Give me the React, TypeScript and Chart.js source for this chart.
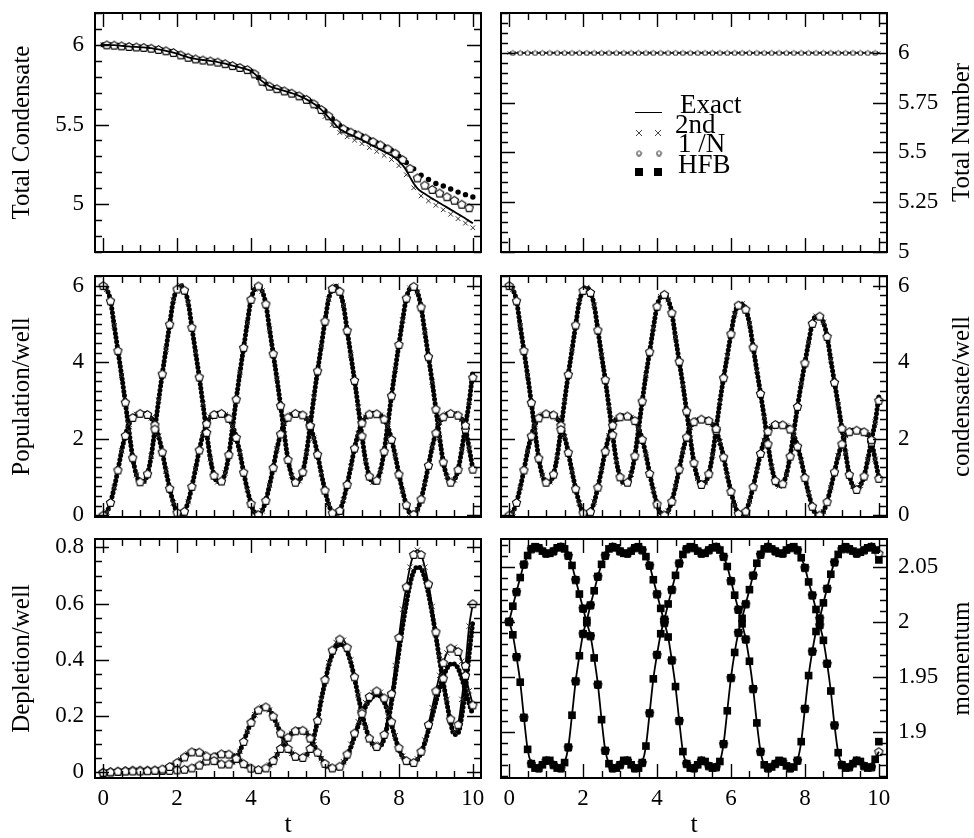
import React, { useEffect, useRef } from "react";
import { Chart, registerables } from "chart.js";
Chart.register(...registerables);

// ---------- data ----------
const T = [
  0, 0.1, 0.2, 0.3, 0.4, 0.5, 0.6, 0.7, 0.8, 0.9,
  1, 1.1, 1.2, 1.3, 1.4, 1.5, 1.6, 1.7, 1.8, 1.9,
  2, 2.1, 2.2, 2.3, 2.4, 2.5, 2.6, 2.7, 2.8, 2.9,
  3, 3.1, 3.2, 3.3, 3.4, 3.5, 3.6, 3.7, 3.8, 3.9,
  4, 4.1, 4.2, 4.3, 4.4, 4.5, 4.6, 4.7, 4.8, 4.9,
  5, 5.1, 5.2, 5.3, 5.4, 5.5, 5.6, 5.7, 5.8, 5.9,
  6, 6.1, 6.2, 6.3, 6.4, 6.5, 6.6, 6.7, 6.8, 6.9,
  7, 7.1, 7.2, 7.3, 7.4, 7.5, 7.6, 7.7, 7.8, 7.9,
  8, 8.1, 8.2, 8.3, 8.4, 8.5, 8.6, 8.7, 8.8, 8.9,
  9, 9.1, 9.2, 9.3, 9.4, 9.5, 9.6, 9.7, 9.8, 9.9,
  10,
];

// Total condensate (exact), and late-time (t = 6.0 .. 10.0) values of the approximations
const totCondExact = [
  6.0, 6.0, 5.999, 5.998, 5.996, 5.994, 5.992, 5.99, 5.988, 5.987,
  5.985, 5.984, 5.982, 5.979, 5.975, 5.971, 5.967, 5.963, 5.958, 5.952,
  5.945, 5.937, 5.929, 5.922, 5.916, 5.912, 5.908, 5.905, 5.902, 5.899,
  5.896, 5.892, 5.887, 5.882, 5.876, 5.87, 5.864, 5.858, 5.852, 5.845,
  5.835, 5.818, 5.795, 5.772, 5.754, 5.741, 5.732, 5.725, 5.718, 5.711,
  5.704, 5.697, 5.689, 5.68, 5.67, 5.658, 5.645, 5.63, 5.613, 5.594,
  5.57, 5.545, 5.52, 5.495, 5.472, 5.458, 5.445, 5.435, 5.425, 5.414,
  5.403, 5.39, 5.378, 5.366, 5.354, 5.342, 5.33, 5.318, 5.305, 5.29,
  5.268, 5.245, 5.212, 5.17, 5.13, 5.1, 5.08, 5.065, 5.05, 5.035,
  5.022, 5.008, 4.994, 4.98, 4.966, 4.952, 4.938, 4.924, 4.91, 4.895,
  4.88,
];
const totCondSecondLate = [
  5.55, 5.525, 5.498, 5.472, 5.45, 5.435, 5.423, 5.412, 5.402, 5.391,
  5.38, 5.367, 5.355, 5.343, 5.331, 5.318, 5.306, 5.293, 5.28, 5.264,
  5.242, 5.218, 5.185, 5.143, 5.103, 5.073, 5.052, 5.036, 5.021, 5.006,
  4.993, 4.979, 4.965, 4.951, 4.937, 4.923, 4.909, 4.895, 4.881, 4.866,
  4.852,
];
const totCondInvNLate = [
  5.58, 5.555, 5.53, 5.508, 5.487, 5.473, 5.462, 5.452, 5.443, 5.434,
  5.426, 5.415, 5.404, 5.393, 5.382, 5.372, 5.36, 5.348, 5.335, 5.32,
  5.3, 5.28, 5.255, 5.225, 5.19, 5.165, 5.14, 5.12, 5.105, 5.093,
  5.082, 5.07, 5.058, 5.047, 5.036, 5.025, 5.013, 5.0, 4.99, 4.978,
  4.965,
];
const totCondHfbLate = [
  5.585, 5.56, 5.537, 5.515, 5.495, 5.48, 5.468, 5.458, 5.448, 5.438,
  5.428, 5.418, 5.407, 5.396, 5.385, 5.374, 5.362, 5.35, 5.338, 5.322,
  5.302, 5.283, 5.262, 5.243, 5.222, 5.2, 5.182, 5.167, 5.155, 5.142,
  5.13, 5.122, 5.114, 5.105, 5.095, 5.085, 5.076, 5.068, 5.06, 5.052,
  5.045,
];

// Total number
const totNumber = [
  6, 6, 6, 6, 6, 6, 6, 6, 6, 6,
  6, 6, 6, 6, 6, 6, 6, 6, 6, 6,
  6, 6, 6, 6, 6, 6, 6, 6, 6, 6,
  6, 6, 6, 6, 6, 6, 6, 6, 6, 6,
  6, 6, 6, 6, 6, 6, 6, 6, 6, 6,
  6, 6, 6, 6, 6, 6, 6, 6, 6, 6,
  6, 6, 6, 6, 6, 6, 6, 6, 6, 6,
  6, 6, 6, 6, 6, 6, 6, 6, 6, 6,
  6, 6, 6, 6, 6, 6, 6, 6, 6, 6,
  6, 6, 6, 6, 6, 6, 6, 6, 6, 6,
  6,
];

// Population per well
const pop1 = [
  6.0, 5.9, 5.6, 4.95, 4.3, 3.65, 2.95, 2.2, 1.5, 1.05,
  0.87, 0.88, 1.08, 1.54, 2.25, 3.0, 3.69, 4.34, 4.99, 5.62,
  5.91, 6.0, 5.88, 5.56, 4.91, 4.26, 3.61, 2.9, 2.16, 1.47,
  1.04, 0.87, 0.89, 1.1, 1.58, 2.29, 3.03, 3.73, 4.38, 5.03,
  5.64, 5.91, 5.99, 5.86, 5.52, 4.87, 4.22, 3.57, 2.86, 2.12,
  1.45, 1.03, 0.86, 0.9, 1.13, 1.63, 2.34, 3.08, 3.77, 4.42,
  5.07, 5.65, 5.92, 5.98, 5.85, 5.48, 4.83, 4.18, 3.52, 2.82,
  2.07, 1.42, 1.02, 0.86, 0.91, 1.16, 1.67, 2.38, 3.12, 3.81,
  4.46, 5.1, 5.67, 5.93, 5.98, 5.83, 5.44, 4.79, 4.14, 3.48,
  2.77, 2.03, 1.39, 1.01, 0.86, 0.92, 1.19, 1.71, 2.35, 2.95,
  3.6,
];
const pop2 = [
  0, 0.08, 0.33, 0.72, 1.18, 1.68, 2.08, 2.38, 2.55, 2.63,
  2.66, 2.66, 2.63, 2.54, 2.36, 2.06, 1.65, 1.15, 0.7, 0.32,
  0.07, 0.0, 0.1, 0.35, 0.75, 1.21, 1.7, 2.1, 2.39, 2.56,
  2.63, 2.66, 2.66, 2.62, 2.53, 2.34, 2.03, 1.62, 1.12, 0.67,
  0.3, 0.06, 0.01, 0.11, 0.38, 0.78, 1.24, 1.73, 2.12, 2.4,
  2.56, 2.63, 2.66, 2.65, 2.62, 2.52, 2.33, 2.01, 1.59, 1.09,
  0.65, 0.28, 0.06, 0.01, 0.12, 0.4, 0.8, 1.27, 1.75, 2.13,
  2.41, 2.56, 2.64, 2.66, 2.65, 2.61, 2.51, 2.31, 1.98, 1.56,
  1.07, 0.63, 0.27, 0.05, 0.02, 0.14, 0.42, 0.83, 1.3, 1.78,
  2.15, 2.42, 2.57, 2.64, 2.66, 2.65, 2.61, 2.5, 2.25, 1.75,
  1.2,
];
const pop1HfbEnd = 3.78;

// Condensate per well
const cond1 = [
  6.0, 5.9, 5.6, 4.95, 4.3, 3.65, 2.94, 2.19, 1.49, 1.04,
  0.86, 0.87, 1.07, 1.53, 2.24, 2.99, 3.68, 4.32, 4.97, 5.59,
  5.87, 5.95, 5.82, 5.49, 4.84, 4.18, 3.54, 2.83, 2.1, 1.42,
  1.0, 0.84, 0.86, 1.07, 1.55, 2.25, 2.98, 3.66, 4.27, 4.89,
  5.46, 5.71, 5.77, 5.63, 5.29, 4.65, 4.02, 3.4, 2.72, 2.01,
  1.37, 0.96, 0.8, 0.85, 1.08, 1.57, 2.26, 2.96, 3.59, 4.16,
  4.74, 5.26, 5.49, 5.52, 5.38, 5.01, 4.39, 3.78, 3.18, 2.55,
  1.86, 1.26, 0.9, 0.76, 0.82, 1.06, 1.54, 2.18, 2.84, 3.43,
  3.98, 4.52, 5.01, 5.2, 5.2, 5.04, 4.67, 4.06, 3.47, 2.89,
  2.27, 1.62, 1.06, 0.75, 0.67, 0.78, 1.02, 1.45, 1.97, 2.43,
  3.0,
];
const cond2 = [
  0, 0.08, 0.33, 0.72, 1.18, 1.67, 2.07, 2.37, 2.54, 2.62,
  2.65, 2.65, 2.62, 2.53, 2.35, 2.05, 1.64, 1.14, 0.69, 0.31,
  0.06, 0.0, 0.09, 0.34, 0.73, 1.19, 1.67, 2.07, 2.35, 2.51,
  2.57, 2.6, 2.59, 2.55, 2.47, 2.28, 1.98, 1.58, 1.09, 0.65,
  0.29, 0.05, 0.0, 0.1, 0.36, 0.75, 1.2, 1.67, 2.04, 2.29,
  2.44, 2.49, 2.51, 2.5, 2.47, 2.38, 2.21, 1.91, 1.52, 1.04,
  0.62, 0.26, 0.04, 0.0, 0.1, 0.36, 0.74, 1.17, 1.61, 1.95,
  2.19, 2.31, 2.37, 2.38, 2.36, 2.33, 2.25, 2.08, 1.8, 1.43,
  0.98, 0.57, 0.23, 0.02, 0.0, 0.09, 0.35, 0.72, 1.13, 1.55,
  1.86, 2.08, 2.18, 2.22, 2.22, 2.2, 2.18, 2.11, 1.91, 1.46,
  0.96,
];
const cond1HfbEnd = 3.1;

// Depletion per well
const dep1 = [
  0.0, 0.001, 0.002, 0.003, 0.004, 0.004, 0.005, 0.005, 0.005, 0.005,
  0.005, 0.005, 0.006, 0.007, 0.008, 0.01, 0.012, 0.016, 0.021, 0.027,
  0.035, 0.045, 0.055, 0.066, 0.073, 0.075, 0.072, 0.066, 0.058, 0.05,
  0.042, 0.035, 0.03, 0.028, 0.03, 0.036, 0.05, 0.075, 0.11, 0.145,
  0.178, 0.205, 0.222, 0.232, 0.233, 0.222, 0.2, 0.17, 0.14, 0.11,
  0.085, 0.068, 0.057, 0.052, 0.053, 0.062, 0.085, 0.125, 0.185, 0.26,
  0.33, 0.39, 0.435, 0.462, 0.474, 0.47, 0.445, 0.4, 0.34, 0.275,
  0.21, 0.16, 0.122, 0.1, 0.092, 0.1, 0.135, 0.2, 0.28, 0.38,
  0.48, 0.58, 0.66, 0.73, 0.775, 0.79, 0.775, 0.73, 0.67, 0.59,
  0.5, 0.415, 0.335, 0.26, 0.19, 0.145, 0.17, 0.26, 0.38, 0.52,
  0.6,
];
const dep2 = [
  0.0, 0.001, 0.002, 0.003, 0.004, 0.005, 0.006, 0.007, 0.008, 0.008,
  0.008, 0.008, 0.008, 0.008, 0.008, 0.007, 0.007, 0.007, 0.007, 0.008,
  0.009, 0.01, 0.011, 0.013, 0.016, 0.02, 0.026, 0.033, 0.041, 0.049,
  0.056, 0.062, 0.066, 0.067, 0.065, 0.06, 0.052, 0.042, 0.031, 0.022,
  0.015, 0.011, 0.01, 0.011, 0.016, 0.026, 0.042, 0.062, 0.085, 0.107,
  0.125, 0.139, 0.148, 0.152, 0.15, 0.14, 0.122, 0.098, 0.072, 0.049,
  0.032, 0.021, 0.016, 0.016, 0.022, 0.038, 0.065, 0.1, 0.14, 0.18,
  0.217, 0.248, 0.27, 0.284, 0.29, 0.285, 0.265, 0.228, 0.18, 0.13,
  0.088, 0.058, 0.042, 0.035, 0.035, 0.048, 0.075, 0.115, 0.17, 0.23,
  0.29, 0.345, 0.39, 0.425, 0.442, 0.445, 0.43, 0.395, 0.345, 0.29,
  0.24,
];
const dep1HfbLate = [
  0.32, 0.38, 0.42, 0.445, 0.455, 0.452, 0.43, 0.39, 0.335, 0.27,
  0.21, 0.16, 0.122, 0.098, 0.088, 0.093, 0.12, 0.175, 0.25, 0.34,
  0.43, 0.52, 0.6, 0.67, 0.715, 0.73, 0.725, 0.69, 0.635, 0.565,
  0.485, 0.4, 0.32, 0.245, 0.175, 0.135, 0.14, 0.2, 0.3, 0.42,
  0.54,
];
const dep2HfbLate = [
  0.031, 0.02, 0.015, 0.015, 0.02, 0.034, 0.058, 0.09, 0.128, 0.167,
  0.203, 0.234, 0.256, 0.27, 0.275, 0.27, 0.25, 0.215, 0.17, 0.123,
  0.083, 0.055, 0.04, 0.034, 0.035, 0.046, 0.07, 0.105, 0.15, 0.2,
  0.25, 0.3, 0.34, 0.37, 0.385, 0.385, 0.37, 0.335, 0.29, 0.245,
  0.205,
];

// Momentum
const mom1 = [
  2.0, 1.988, 1.968, 1.945, 1.913, 1.884, 1.871, 1.867, 1.867, 1.87,
  1.874, 1.874, 1.87, 1.867, 1.867, 1.872, 1.886, 1.915, 1.946, 1.969,
  1.989, 2.001, 2.015, 2.028, 2.041, 2.052, 2.06, 2.066, 2.068, 2.067,
  2.064, 2.062, 2.062, 2.064, 2.067, 2.068, 2.065, 2.059, 2.051, 2.038,
  2.025, 2.012, 1.999, 1.986, 1.965, 1.941, 1.91, 1.882, 1.871, 1.867,
  1.867, 1.87, 1.874, 1.873, 1.869, 1.867, 1.868, 1.873, 1.889, 1.919,
  1.949, 1.972, 1.99, 2.003, 2.016, 2.029, 2.042, 2.053, 2.061, 2.066,
  2.068, 2.066, 2.064, 2.062, 2.062, 2.065, 2.067, 2.068, 2.065, 2.058,
  2.049, 2.036, 2.024, 2.011, 1.997, 1.983, 1.962, 1.937, 1.906, 1.881,
  1.87, 1.867, 1.868, 1.871, 1.874, 1.873, 1.869, 1.867, 1.868, 1.875,
  1.882,
];
const mom2 = [
  2.0, 2.014, 2.027, 2.04, 2.052, 2.06, 2.066, 2.068, 2.067, 2.064,
  2.062, 2.062, 2.064, 2.067, 2.068, 2.066, 2.06, 2.051, 2.038, 2.025,
  2.012, 1.999, 1.987, 1.967, 1.943, 1.911, 1.883, 1.871, 1.867, 1.867,
  1.87, 1.874, 1.874, 1.87, 1.867, 1.867, 1.872, 1.887, 1.917, 1.948,
  1.97, 1.989, 2.002, 2.016, 2.029, 2.042, 2.053, 2.061, 2.066, 2.068,
  2.067, 2.064, 2.062, 2.062, 2.065, 2.067, 2.068, 2.065, 2.059, 2.05,
  2.037, 2.024, 2.011, 1.998, 1.984, 1.964, 1.939, 1.908, 1.882, 1.87,
  1.867, 1.868, 1.871, 1.874, 1.873, 1.869, 1.867, 1.868, 1.874, 1.891,
  1.921, 1.951, 1.973, 1.991, 2.003, 2.017, 2.03, 2.043, 2.054, 2.061,
  2.066, 2.068, 2.066, 2.064, 2.062, 2.063, 2.065, 2.067, 2.068, 2.065,
  2.062,
];
const mom1HfbEnd = 1.891;
const mom2HfbEnd = 2.056;

// Axis ticks
const X_MIN = -0.22;
const X_MAX = 10.22;
const xTickLabels = [0, 2, 4, 6, 8, 10];
const condTotTicks = [5, 5.5, 6];
const numTotTicks = [5, 5.25, 5.5, 5.75, 6];
const popTicks = [0, 2, 4, 6];
const depTicks = [0, 0.2, 0.4, 0.6, 0.8];
const momTicks = [1.9, 1.95, 2, 2.05];

const legendLabels = ["Exact", "2nd", "1 /N", "HFB"];

// ---------- styling ----------
const FONT = "'Liberation Serif', 'Times New Roman', Times, serif";
const TICK_FONT = "'Liberation Serif', 'Times New Roman', Times, serif";
const LATE_START = 60;

const LAYOUT = [
  { x: 0, y: 0, w: 490, h: 262 },
  { x: 490, y: 0, w: 484, h: 262 },
  { x: 0, y: 262, w: 490, h: 266 },
  { x: 490, y: 262, w: 484, h: 266 },
  { x: 0, y: 528, w: 490, h: 310 },
  { x: 490, y: 528, w: 484, h: 310 },
];
const ROW_PAD = [
  { top: 13, bottom: 10 },
  { top: 14, bottom: 11 },
  { top: 11, bottom: 0 },
];

const xy = (ys: number[], from = 0) => ys.map((y, i) => ({ x: T[from + i], y }));
const every = (pts: any[], mod: number, rem: number) => pts.filter((_, i) => i % mod === rem);
const joinLate = (early: number[], late: number[]) => [...early.slice(0, LATE_START), ...late];
const withEnd = (arr: number[], end: number) => [...arr.slice(0, arr.length - 1), end];

function makePentagon(size: number, r: number, lw: number) {
  const c = document.createElement("canvas");
  c.width = size;
  c.height = size;
  const g = c.getContext("2d")!;
  g.beginPath();
  for (let k = 0; k < 5; k++) {
    const a = -Math.PI / 2 + (k * 2 * Math.PI) / 5;
    const px = size / 2 + r * Math.cos(a);
    const py = size / 2 + 0.4 + r * Math.sin(a);
    if (k === 0) g.moveTo(px, py);
    else g.lineTo(px, py);
  }
  g.closePath();
  g.fillStyle = "#fff";
  g.fill();
  g.lineWidth = lw;
  g.strokeStyle = "#000";
  g.stroke();
  return c;
}

const lineDs = (data: any[], width = 1.8) => ({
  data, showLine: true, borderColor: "#000", borderWidth: width, pointRadius: 0,
  cubicInterpolationMode: "monotone", fill: false,
});
const dottedDs = (data: any[]) => ({
  data, showLine: true, borderColor: "#000", borderWidth: 5, borderDash: [0, 4.2],
  borderCapStyle: "round", pointRadius: 0, cubicInterpolationMode: "monotone", fill: false,
});
const crossDs = (data: any[], r = 3.8) => ({
  data, showLine: false, pointStyle: "crossRot", pointRadius: r, pointBorderWidth: 1,
  pointBorderColor: "#333", borderColor: "#333", pointBackgroundColor: "rgba(0,0,0,0)",
});
const pentDs = (data: any[], img: any) => ({
  data, showLine: false, pointStyle: img, pointRadius: 4,
});
const dotDs = (data: any[], r: number) => ({
  data, showLine: false, pointStyle: "circle", pointRadius: r, pointBorderWidth: 0,
  pointBackgroundColor: "#000", pointBorderColor: "#000",
});
const squareDs = (data: any[], r: number) => ({
  data, showLine: false, pointStyle: "rect", pointRadius: r, pointBorderWidth: 0,
  pointBackgroundColor: "#000", pointBorderColor: "#000",
});

function buildPanels(pent: any, pentSmall: any) {
  const tcSecond = xy(joinLate(totCondExact, totCondSecondLate));
  const tcInvN = xy(joinLate(totCondExact, totCondInvNLate));
  const tcHfb = xy(joinLate(totCondExact, totCondHfbLate));
  const tn = xy(totNumber);
  const p1 = xy(pop1), p2 = xy(pop2);
  const c1 = xy(cond1), c2 = xy(cond2);
  const d1 = xy(dep1), d2 = xy(dep2);
  const m1 = xy(mom1), m2 = xy(mom2);
  return [
    {
      row: 0, col: 0, yMin: 4.7, yMax: 6.2, yTicks: condTotTicks, yMinor: 0.1,
      yTitle: "Total Condensate",
      datasets: [
        lineDs(xy(totCondExact), 1.8),
        pentDs(every(tcInvN, 2, 1), pent),
        dotDs(every(tcHfb, 2, 0), 2.7),
        crossDs(every(tcSecond, 2, 0), 3.3),
      ],
    },
    {
      row: 0, col: 1, yMin: 5, yMax: 6.2, yTicks: numTotTicks, yMinor: 0.05,
      yTitle: "Total Number", legend: true, legendPent: pentSmall,
      datasets: [
        pentDs(every(tn, 2, 1), pentSmall),
        crossDs(every(tn, 2, 0), 2.2),
        lineDs(tn, 1.8),
      ],
    },
    {
      row: 1, col: 0, yMin: -0.05, yMax: 6.25, yTicks: popTicks, yMinor: 0.25,
      yTitle: "Population/well",
      datasets: [
        pentDs(every(p1, 2, 0), pent), pentDs(every(p2, 2, 0), pent),
        crossDs(every(p1, 2, 1)), crossDs(every(p2, 2, 1)),
        lineDs(p1), lineDs(p2),
        dottedDs(xy(withEnd(pop1, pop1HfbEnd))), dottedDs(p2),
      ],
    },
    {
      row: 1, col: 1, yMin: -0.05, yMax: 6.25, yTicks: popTicks, yMinor: 0.25,
      yTitle: "condensate/well",
      datasets: [
        pentDs(every(c1, 2, 0), pent), pentDs(every(c2, 2, 0), pent),
        crossDs(every(c1, 2, 1)), crossDs(every(c2, 2, 1)),
        lineDs(c1), lineDs(c2),
        dottedDs(xy(withEnd(cond1, cond1HfbEnd))), dottedDs(c2),
      ],
    },
    {
      row: 2, col: 0, yMin: -0.02, yMax: 0.83, yTicks: depTicks, yMinor: 0.05,
      yTitle: "Depletion/well",
      datasets: [
        pentDs(every(d1, 2, 0), pent), pentDs(every(d2, 2, 0), pent),
        crossDs(every(d1, 2, 1)), crossDs(every(d2, 2, 1)),
        lineDs(d1), lineDs(d2),
        dottedDs(xy(joinLate(dep1, dep1HfbLate))), dottedDs(xy(joinLate(dep2, dep2HfbLate))),
      ],
    },
    {
      row: 2, col: 1, yMin: 1.858, yMax: 2.075, yTicks: momTicks, yMinor: 0.01,
      yTitle: "momentum",
      datasets: [
        squareDs(xy(withEnd(mom1, mom1HfbEnd)), 5.4), squareDs(xy(withEnd(mom2, mom2HfbEnd)), 5.4),
        lineDs(m1, 1.8), lineDs(m2, 1.8),
        pentDs(every(m1, 2, 0), pent), pentDs(every(m2, 2, 0), pent),
        crossDs(every(m1, 2, 1)), crossDs(every(m2, 2, 1)),
      ],
    },
  ];
}

function minorValues(min: number, max: number, step: number) {
  const out: number[] = [];
  const n0 = Math.ceil(min / step - 1e-6);
  const n1 = Math.floor(max / step + 1e-6);
  for (let n = n0; n <= n1; n++) out.push(n * step);
  return out;
}

function framePlugin(p: any) {
  return {
    id: "frame" + p.row + p.col,
    afterDatasetsDraw(chart: any) {
      const { ctx, chartArea: a, scales } = chart;
      const xs = scales.x;
      const ys = scales.y;
      const MAJ = 14;
      const MIN = 7;
      ctx.save();
      ctx.strokeStyle = "#000";
      ctx.lineWidth = 1.4;
      ctx.beginPath();
      const tickX = (v: number, len: number) => {
        const px = Math.round(xs.getPixelForValue(v)) + 0.5;
        ctx.moveTo(px, a.bottom);
        ctx.lineTo(px, a.bottom - len);
        ctx.moveTo(px, a.top);
        ctx.lineTo(px, a.top + len);
      };
      const tickY = (v: number, len: number) => {
        const py = Math.round(ys.getPixelForValue(v)) + 0.5;
        ctx.moveTo(a.left, py);
        ctx.lineTo(a.left + len, py);
        ctx.moveTo(a.right, py);
        ctx.lineTo(a.right - len, py);
      };
      minorValues(0, 10, 0.5).forEach((v) => tickX(v, MIN));
      xTickLabels.forEach((v) => tickX(v, MAJ));
      minorValues(p.yMin, p.yMax, p.yMinor).forEach((v) => tickY(v, MIN));
      p.yTicks.forEach((v: number) => tickY(v, MAJ));
      ctx.stroke();
      ctx.lineWidth = 2;
      ctx.strokeRect(a.left, a.top, a.right - a.left, a.bottom - a.top);

      if (p.col === 1) {
        ctx.save();
        ctx.translate(472, (a.top + a.bottom) / 2);
        ctx.rotate(-Math.PI / 2);
        ctx.textAlign = "center";
        ctx.textBaseline = "middle";
        ctx.font = `25px ${FONT}`;
        ctx.fillStyle = "#000";
        ctx.fillText(p.yTitle, 0, 0);
        ctx.restore();
      }

      if (p.legend) {
        ctx.fillStyle = "#000";
        ctx.font = `27px ${FONT}`;
        ctx.textAlign = "left";
        ctx.textBaseline = "alphabetic";
        // Exact
        ctx.strokeStyle = "#000";
        ctx.lineWidth = 1;
        ctx.beginPath();
        ctx.moveTo(145, 112.5);
        ctx.lineTo(172, 112.5);
        ctx.stroke();
        ctx.fillText(legendLabels[0], 190, 113);
        // 2nd
        ctx.strokeStyle = "#444";
        ctx.beginPath();
        [149, 168].forEach((cx) => {
          ctx.moveTo(cx - 3, 130);
          ctx.lineTo(cx + 3, 136);
          ctx.moveTo(cx - 3, 136);
          ctx.lineTo(cx + 3, 130);
        });
        ctx.stroke();
        ctx.fillText(legendLabels[1], 185, 133);
        // 1/N
        const img = p.legendPent;
        [149, 169].forEach((cx) => ctx.drawImage(img, cx - img.width / 2, 153 - img.height / 2));
        ctx.fillText(legendLabels[2], 188, 152);
        // HFB
        ctx.fillRect(145, 168, 8, 8);
        ctx.fillRect(164, 168, 8, 8);
        ctx.fillText(legendLabels[3], 188, 173);
      }
      ctx.restore();
    },
  };
}

function makeConfig(p: any) {
  const left = p.col === 0;
  const pad = ROW_PAD[p.row];
  const showX = p.row === 2;
  return {
    type: "scatter",
    data: { datasets: p.datasets },
    options: {
      animation: false,
      responsive: false,
      devicePixelRatio: 1,
      events: [],
      layout: {
        autoPadding: false,
        padding: { left: left ? 0 : 11, right: left ? 9 : 0, top: pad.top, bottom: pad.bottom },
      },
      plugins: { legend: { display: false }, tooltip: { enabled: false } },
      scales: {
        x: {
          type: "linear", position: "bottom", min: X_MIN, max: X_MAX, display: showX,
          grid: { display: false, drawTicks: false }, border: { display: false },
          afterBuildTicks: (s: any) => { s.ticks = xTickLabels.map((v) => ({ value: v })); },
          afterFit: (s: any) => {
            s.height = showX ? 60 : 0;
            s.paddingLeft = 0; s.paddingRight = 0; s.paddingTop = 0; s.paddingBottom = 0;
          },
          ticks: {
            autoSkip: false, maxRotation: 0, minRotation: 0, padding: 7, color: "#000",
            font: { family: TICK_FONT, size: 23 }, callback: (v: any) => String(v),
          },
          title: {
            display: true, text: "t", color: "#000",
            font: { family: FONT, size: 26, lineHeight: 1 }, padding: { top: 0, bottom: 0 },
          },
        },
        y: {
          type: "linear", position: left ? "left" : "right", min: p.yMin, max: p.yMax,
          grid: { display: false, drawTicks: false }, border: { display: false },
          afterBuildTicks: (s: any) => { s.ticks = p.yTicks.map((v: number) => ({ value: v })); },
          afterFit: (s: any) => {
            s.width = left ? 95 : 87; s.paddingLeft = 0; s.paddingRight = 0; s.paddingTop = 0; s.paddingBottom = 0;
          },
          ticks: {
            autoSkip: false, padding: 11, color: "#000",
            font: { family: TICK_FONT, size: 23 }, callback: (v: any) => String(v),
          },
          title: left
            ? {
                display: true, text: p.yTitle, color: "#000",
                font: { family: FONT, size: 25, lineHeight: 1 }, padding: { top: 10, bottom: 0 },
              }
            : { display: false },
        },
      },
    },
    plugins: [framePlugin(p)],
  };
}

export default function App() {
  const refs = useRef<(HTMLCanvasElement | null)[]>([]);
  useEffect(() => {
    const pent = makePentagon(11, 4.3, 1.1);
    const pentSmall = makePentagon(7, 2.6, 0.9);
    const panels = buildPanels(pent, pentSmall);
    const charts = panels.map((p, i) => new Chart(refs.current[i] as any, makeConfig(p) as any));
    return () => charts.forEach((c) => c.destroy());
  }, []);
  return (
    <div style={{ position: "absolute", left: 0, top: 0, width: 974, height: 838, background: "#fff" }}>
      {LAYOUT.map((l, i) => (
        <canvas
          key={i}
          ref={(el) => { refs.current[i] = el; }}
          width={l.w}
          height={l.h}
          style={{ position: "absolute", left: l.x, top: l.y, width: l.w, height: l.h }}
        />
      ))}
    </div>
  );
}
